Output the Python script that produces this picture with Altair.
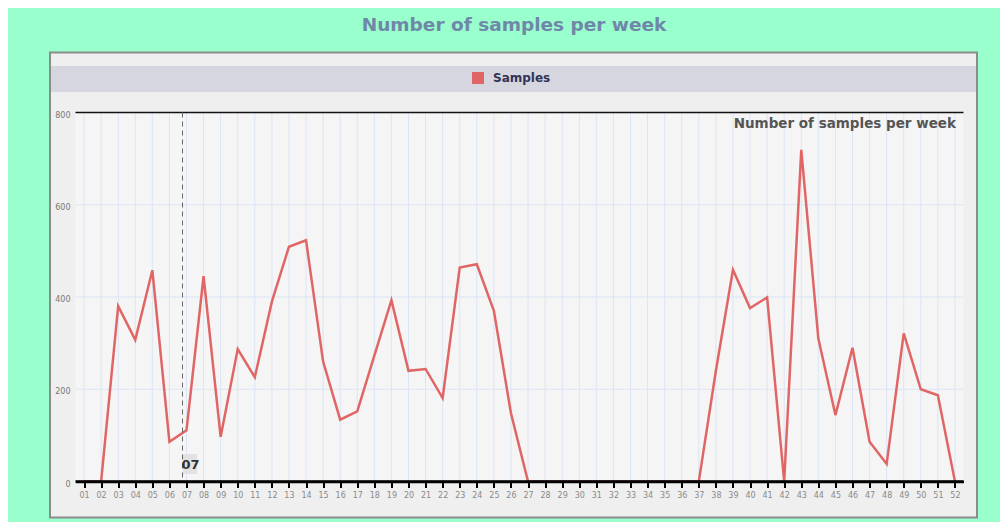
import altair as alt
import pandas as pd

# ---------------- data ----------------
weeks = ["01", "02", "03", "04", "05", "06", "07", "08", "09", "10",
         "11", "12", "13", "14", "15", "16", "17", "18", "19", "20",
         "21", "22", "23", "24", "25", "26", "27", "28", "29", "30",
         "31", "32", "33", "34", "35", "36", "37", "38", "39", "40",
         "41", "42", "43", "44", "45", "46", "47", "48", "49", "50",
         "51", "52"]
samples = [0, 0, 380, 307, 458, 86, 111, 445, 97, 287,
           226, 390, 509, 523, 260, 134, 152, 273, 393, 240,
           244, 181, 464, 471, 370, 148, 0, 0, 0, 0,
           0, 0, 0, 0, 0, 0, 0, 240, 459, 376,
           399, 0, 719, 310, 144, 290, 86, 38, 321, 200,
           187, 0]
series_name = "Samples"
grid_values = [200, 400, 600]
y_ticks = [0, 200, 400, 600, 800]
y_top = [800]
y_base = [0]
hover_week = ["07"]
title_text = "Number of samples per week"

W, H = 888, 369

df = pd.DataFrame({"week": weeks, "samples": samples, "series": series_name})
df_weeks = pd.DataFrame({"week": weeks})
df_grid = pd.DataFrame({"v": grid_values})
df_top = pd.DataFrame({"v": y_top})
df_base = pd.DataFrame({"v": y_base})
df_hover = pd.DataFrame({"week": hover_week})
df_title = pd.DataFrame({"label": [title_text]})
df_one = pd.DataFrame({"k": [1]})

x_scale = alt.Scale(type="point", domain=weeks, padding=0.5)
y_scale = alt.Scale(domain=[0, 800], nice=False, zero=True)

x_axis = alt.Axis(title=None, grid=False, domainColor="#000000", domainWidth=2.5,
                  tickColor="#000000", tickWidth=2, tickSize=6,
                  labelColor="#8a8a8a", labelFont="DejaVu Sans", labelFontSize=8,
                  labelPadding=4, labelAngle=0, zindex=2)
y_axis = alt.Axis(title=None, grid=False, domain=False, ticks=False, values=y_ticks,
                  labelColor="#777777", labelFont="DejaVu Sans", labelFontSize=8,
                  labelPadding=5.5, labelOffset=2.5, zindex=2)


def X(field):
    return alt.X(field, type="ordinal", scale=x_scale, axis=x_axis, title=None)


def Y(field):
    return alt.Y(field, type="quantitative", scale=y_scale, axis=y_axis, title=None)


panel = alt.Chart(df_one).mark_rect(fill="#efefef", stroke="#8c8c8c", strokeWidth=2).encode(
    x=alt.value(-25.5), x2=alt.value(901.5), y=alt.value(-60), y2=alt.value(405))

band = alt.Chart(df_one).mark_rect(fill="#d5d6df").encode(
    x=alt.value(-24.5), x2=alt.value(900.5), y=alt.value(-46.5), y2=alt.value(-20.5))

plot_bg = alt.Chart(df_one).mark_rect(fill="#f5f5f5").encode(
    x=alt.value(0), x2=alt.value("width"), y=alt.value(0), y2=alt.value("height"))

vgrid = alt.Chart(df_weeks).mark_rule(color="#dbe5f5", strokeWidth=1).encode(x=X("week"))

hgrid = alt.Chart(df_grid).mark_rule(color="#dbe5f5", strokeWidth=1).encode(y=Y("v"))

top_rule = alt.Chart(df_top).mark_rule(color="#111111", strokeWidth=1.5).encode(y=Y("v"))

line = alt.Chart(df).mark_line(strokeWidth=2.5, interpolate="linear").encode(
    x=X("week"),
    y=Y("samples"),
    color=alt.Color("series:N",
                    scale=alt.Scale(domain=[series_name], range=["#e06666"]),
                    legend=alt.Legend(title=None, orient="none", legendX=396.5, legendY=-40.5,
                                      direction="horizontal", symbolType="square",
                                      symbolSize=144, symbolFillColor="#e06666",
                                      symbolStrokeColor="#e06666", symbolStrokeWidth=0,
                                      labelFont="DejaVu Sans", labelFontWeight="bold",
                                      labelFontSize=12, labelColor="#333355",
                                      labelOffset=9, padding=0, zindex=2)),
)

base_rule = alt.Chart(df_base).mark_rule(color="#000000", strokeWidth=2.5).encode(y=Y("v"))

cross = alt.Chart(df_hover).mark_rule(color="#666666", strokeWidth=1, strokeDash=[5, 4]).encode(
    x=X("week"), xOffset=alt.value(-4))

cross_box = alt.Chart(df_hover).mark_rect(fill="#e2e2e2", width=14).encode(
    x=X("week"), xOffset=alt.value(3.5), y=alt.value(341.5), y2=alt.value(361.5))

cross_text = alt.Chart(df_hover).mark_text(font="DejaVu Sans", fontWeight="bold", fontSize=13,
                                           color="#333333", align="center", baseline="middle",
                                           dx=4).encode(
    x=X("week"), y=alt.value(352), text="week:N")

inner_title = alt.Chart(df_title).mark_text(font="DejaVu Sans", fontWeight="bold", fontSize=13.5,
                                            color="#555555", align="right", baseline="middle").encode(
    x=alt.value(880.5), y=alt.value(11.5), text="label:N")

main_title = alt.Chart(df_title).mark_text(font="DejaVu Sans", fontWeight="bold", fontSize=18.5,
                                           color="#6f87a8", align="center", baseline="middle").encode(
    x=alt.value(438.5), y=alt.value(-87.5), text="label:N")

chart = alt.layer(
    panel, band, plot_bg, vgrid, hgrid, top_rule, line, base_rule, cross, cross_box, cross_text,
    inner_title, main_title
).properties(
    width=W, height=H, background="#99ffcc",
    padding={"left": 67.5, "top": 104.5, "right": 36.5, "bottom": 40.5},
    autosize=alt.AutoSizeParams(type="none"),
).configure_view(stroke=None, fill=None)

chart.save("out.html", embed_options={"renderer": "svg", "actions": False})
